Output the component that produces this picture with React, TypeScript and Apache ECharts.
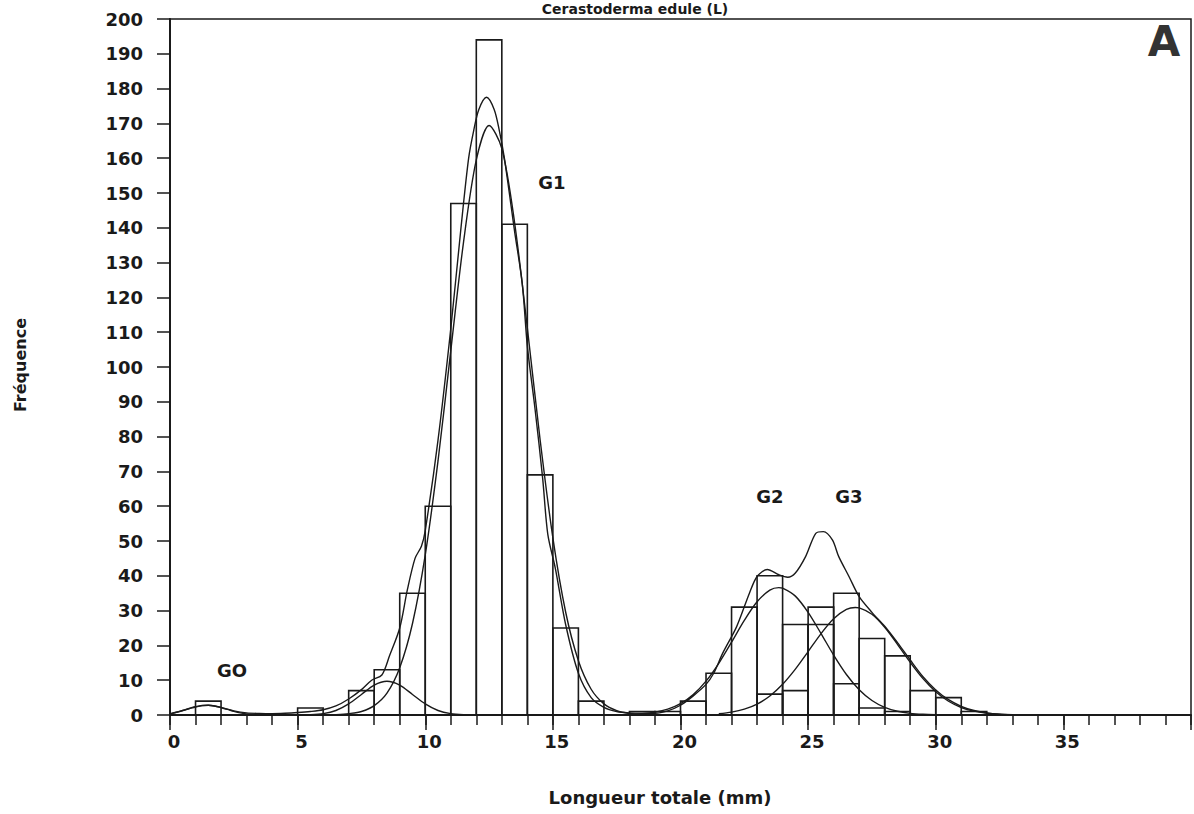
import React, { useEffect, useRef } from "react";
import * as echarts from "echarts";

// Histogram: 1-mm bins (start of bin) and counts
const binStarts = [1, 5, 7, 8, 9, 10, 11, 12, 13, 14, 15, 16, 18, 19, 20, 21, 22, 23, 24, 25, 26, 27, 28, 29, 30, 31];
const binCounts = [4, 2, 7, 13, 35, 60, 147, 194, 141, 69, 25, 4, 1, 1, 4, 12, 31, 40, 26, 31, 35, 22, 17, 7, 5, 1];

// Split (component) portions of overlapping bins in G2/G3
const splitStarts = [23, 24, 25, 26, 27, 28];
const splitCounts = [6, 7, 26, 9, 2, 1];

// Smoothed observed curve
const totalX = [0, 0.5, 1, 1.5, 2, 2.5, 3, 3.5, 4, 4.5, 5, 5.5, 6, 6.5, 7, 7.5, 7.9, 8.3, 8.6, 9, 9.3, 9.6, 9.85, 10, 10.5, 11, 11.4, 11.7, 11.9, 12.1, 12.4, 12.7, 12.9, 13.1, 13.5, 13.8, 14, 14.3, 14.6, 14.8, 15.1, 15.5, 16, 16.5, 17, 17.5, 18, 18.5, 19, 19.5, 20, 20.5, 21, 21.3, 21.65, 22.2, 22.7, 23, 23.4, 23.85, 24.2, 24.5, 24.9, 25.3, 25.6, 25.95, 26.2, 26.6, 27, 27.5, 28, 28.5, 29, 29.5, 30, 30.5, 31, 31.5, 32, 32.5, 33];
const totalY = [0.3, 1.3, 2.4, 2.8, 2.2, 1.2, 0.6, 0.45, 0.4, 0.5, 0.7, 1.0, 1.5, 2.6, 4.6, 7.3, 10.0, 11.5, 17, 25, 36, 45, 48.5, 53, 79, 111, 140, 160, 168, 174, 177.5, 174, 168, 160, 139, 124, 106, 88, 68, 52, 42, 26, 12, 5, 2.2, 1.0, 0.6, 0.5, 0.5, 1.2, 2.8, 5.5, 8.8, 12, 17.7, 25.4, 35, 39.8, 41.8, 40.3, 39.6, 40.8, 45.5, 52.2, 52.7, 50.3, 45.5, 39.8, 34, 29.5, 25.5, 20.8, 15.8, 11, 7.2, 4.4, 2.5, 1.3, 0.6, 0.25, 0.1];

// Component curves
const g0X = [0, 0.25, 0.5, 0.75, 1, 1.25, 1.5, 1.75, 2, 2.25, 2.5, 2.75, 3, 3.25, 3.5, 4];
const g0Y = [0.3, 0.8, 1.3, 1.8, 2.3, 2.7, 2.8, 2.6, 2.1, 1.6, 1.05, 0.6, 0.33, 0.16, 0.07, 0.01];

const g05X = [5.5, 6, 6.5, 7, 7.5, 8, 8.5, 9, 9.5, 10, 10.5, 11, 11.5];
const g05Y = [0.1, 0.4, 1.3, 3.2, 5.9, 8.6, 9.7, 8.6, 5.9, 3.2, 1.3, 0.4, 0.1];

const g1X = [6.5, 7, 7.5, 8, 8.5, 9, 9.5, 10, 10.5, 11, 11.5, 12, 12.5, 13, 13.5, 14, 14.5, 15, 15.5, 16, 16.5, 17, 17.5, 18, 18.5];
const g1Y = [0.1, 0.4, 1.0, 2.7, 6.3, 13.6, 26.3, 46, 73, 104.7, 135.9, 159.5, 169.4, 162.8, 141.5, 111.2, 79.1, 50.9, 29.6, 15.6, 7.4, 3.2, 1.25, 0.44, 0.14];

const g2X = [18, 18.5, 19, 19.5, 20, 20.5, 21, 21.5, 22, 22.5, 23, 23.5, 23.85, 24, 24.5, 25, 25.5, 26, 26.5, 27, 27.5, 28, 28.5, 29, 29.5, 30];
const g2Y = [0.14, 0.34, 0.79, 1.67, 3.25, 5.86, 9.72, 14.85, 20.93, 27.18, 32.53, 35.87, 36.6, 36.46, 34.16, 29.49, 23.47, 17.21, 11.63, 7.24, 4.16, 2.2, 1.07, 0.48, 0.2, 0.08];

const g3X = [21.5, 22, 22.5, 23, 23.5, 24, 24.5, 25, 25.5, 26, 26.5, 26.85, 27, 27.5, 28, 28.5, 29, 29.5, 30, 30.5, 31, 31.5, 32, 32.5, 33];
const g3Y = [0.37, 0.82, 1.67, 3.14, 5.47, 8.82, 13.18, 18.22, 23.33, 27.64, 30.32, 30.9, 30.8, 28.95, 25.2, 20.3, 15.14, 10.45, 6.68, 3.95, 2.16, 1.1, 0.52, 0.22, 0.09];

const yTicks = { min: 0, max: 200, interval: 10 };
const xTicks = { min: 0, max: 40, minor: 1, major: 5 };

const INK = "#1a1a1a";
const FONT = "DejaVu Sans";

const zip = (xs: number[], ys: number[]) => xs.map((x, i) => [x, ys[i]]);

const barRender = (params: any, api: any) => {
  const x0 = api.value(0);
  const x1 = api.value(1);
  const v = api.value(2);
  const p0 = api.coord([x0, v]);
  const p1 = api.coord([x1, 0]);
  return {
    type: "rect",
    shape: { x: p0[0], y: p0[1], width: p1[0] - p0[0], height: p1[1] - p0[1] },
    style: { fill: "none", stroke: INK, lineWidth: 1.6 },
  };
};

const curve = (name: string, xs: number[], ys: number[]) => ({
  name,
  type: "line",
  data: zip(xs, ys),
  smooth: 0.3,
  showSymbol: false,
  symbol: "none",
  lineStyle: { color: INK, width: 1.4 },
  z: 5,
});

export default function App() {
  const ref = useRef<HTMLDivElement>(null);
  useEffect(() => {
    if (!ref.current) return;
    const chart = echarts.init(ref.current, undefined, { renderer: "svg" });
    const labelStyle = { fontFamily: FONT, fontWeight: "bold" as const, color: INK };
    const txt = (text: string, x: number, y: number, size: number, extra: any = {}) => ({
      type: "text",
      x,
      y,
      ...extra,
      style: { text, textAlign: "center", textVerticalAlign: "middle", font: `bold ${size}px '${FONT}'`, fill: INK },
    });
    chart.setOption({
      animation: false,
      backgroundColor: "#ffffff",
      grid: {
        left: 170,
        right: 2,
        top: 19,
        bottom: 99,
        show: true,
        borderColor: INK,
        borderWidth: 1.5,
      },
      xAxis: [
        {
          type: "value",
          min: xTicks.min,
          max: xTicks.max,
          interval: xTicks.minor,
          axisLine: { show: true, lineStyle: { color: INK, width: 2 } },
          axisTick: { show: true, length: 10, lineStyle: { color: INK, width: 1.5 } },
          axisLabel: { show: false },
          splitLine: { show: false },
        },
        {
          type: "value",
          min: xTicks.min,
          max: xTicks.max,
          interval: xTicks.major,
          position: "bottom",
          axisLine: { show: false },
          axisTick: { show: true, length: 15, lineStyle: { color: INK, width: 1.5 } },
          axisLabel: {
            ...labelStyle,
            fontSize: 18,
            margin: 17,
            padding: [0, 0, 0, 8],
            formatter: (v: number) => (v < xTicks.max ? String(v) : ""),
          },
          splitLine: { show: false },
        },
      ],
      yAxis: {
        type: "value",
        min: yTicks.min,
        max: yTicks.max,
        interval: yTicks.interval,
        axisLine: { show: true, lineStyle: { color: INK, width: 2 } },
        axisTick: { show: true, length: 13, lineStyle: { color: INK, width: 1.5 } },
        axisLabel: { ...labelStyle, fontSize: 18, margin: 27 },
        splitLine: { show: false },
      },
      series: [
        {
          name: "histogram",
          type: "custom",
          renderItem: barRender,
          encode: { x: [0, 1], y: 2 },
          data: binStarts.map((s, i) => [s, s + 1, binCounts[i]]),
          z: 3,
        },
        {
          name: "split",
          type: "custom",
          renderItem: barRender,
          encode: { x: [0, 1], y: 2 },
          data: splitStarts.map((s, i) => [s, s + 1, splitCounts[i]]),
          z: 3,
        },
        curve("total", totalX, totalY),
        curve("G0", g0X, g0Y),
        curve("G0b", g05X, g05Y),
        curve("G1", g1X, g1Y),
        curve("G2", g2X, g2Y),
        curve("G3", g3X, g3Y),
      ],
      graphic: [
        txt("Cerastoderma edule (L)", 635, 9, 14),
        {
          type: "text",
          x: 1164,
          y: 41,
          style: { text: "A", textAlign: "center", textVerticalAlign: "middle", font: `bold 42px '${FONT}'`, fill: "#333" },
        },
        txt("G1", 552, 182, 18),
        txt("G2", 770, 496, 18),
        txt("G3", 849, 496, 18),
        txt("GO", 232, 670, 18),
        txt("Longueur totale (mm)", 660, 797, 18),
        txt("Fréquence", 20, 365, 16, { rotation: Math.PI / 2 }),
      ],
    });
    return () => chart.dispose();
  }, []);
  return <div ref={ref} style={{ position: "fixed", left: 0, top: 0, width: 1194, height: 814, background: "#fff" }} />;
}
